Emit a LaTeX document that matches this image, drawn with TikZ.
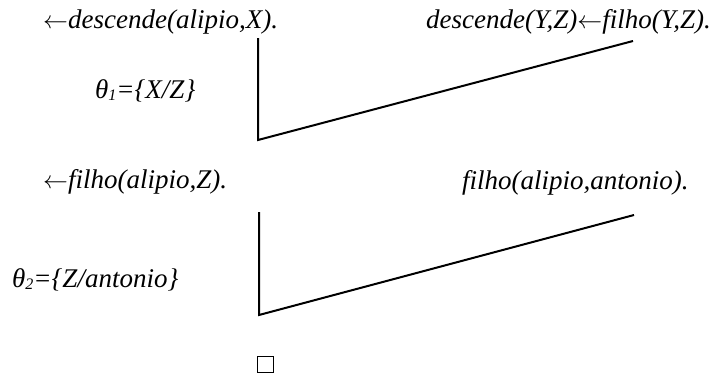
\documentclass[tikz,border=0pt]{standalone}
\usepackage{fontspec}
\setmainfont{Liberation Serif}
\begin{document}
\begin{tikzpicture}[x=1pt,y=-1pt,
  clause/.style={inner sep=0pt,anchor=base west,font=\fontsize{27}{27}\selectfont\itshape},
  tree/.style={line width=2pt,line join=miter}]
\useasboundingbox (0,0) rectangle (717,378);
\newcommand{\thsub}[1]{{\fontsize{16}{16}\selectfont\raisebox{-2pt}{#1}}}
\newcommand{\larr}{\ensuremath{\leftarrow}}
% clauses
\node[clause] (g1) at (43,28) {\larr descende(alipio,X).};
\node[clause] (c1) at (426,28) {descende(Y,Z)\larr filho(Y,Z).};
\node[clause] (s1) at (95,98) {θ\thsub{1}=\{X/Z\}};
\node[clause] (g2) at (43,188) {\larr filho(alipio,Z).};
\node[clause] (c2) at (462,189) {filho(alipio,antonio).};
\node[clause] (s2) at (12,287) {θ\thsub{2}=\{Z/antonio\}};
% resolution steps
\coordinate (t1) at (258,38);
\coordinate (b1) at (258,140);
\coordinate (r1) at (633,41);
\coordinate (t2) at (259,212);
\coordinate (b2) at (259,315);
\coordinate (r2) at (634,215);
\draw[tree] (t1) -- (b1) -- (r1);
\draw[tree] (t2) -- (b2) -- (r2);
% empty clause
\node[draw,line width=1.6pt,minimum size=16pt,inner sep=0pt] (box) at (265.5,364.5) {};
\end{tikzpicture}
\end{document}
